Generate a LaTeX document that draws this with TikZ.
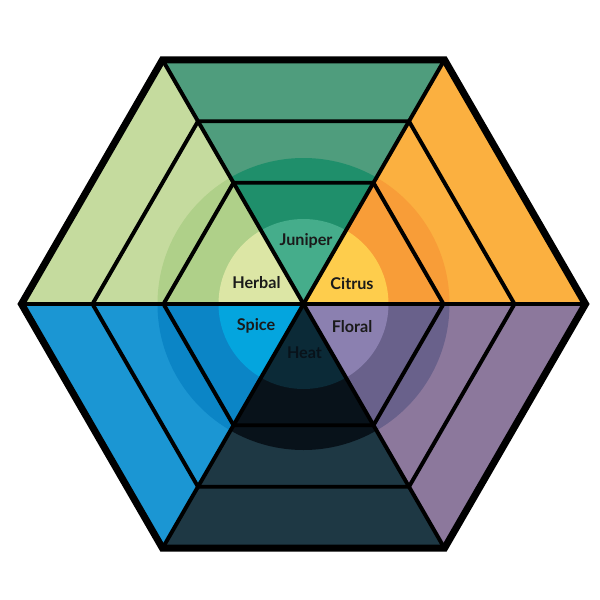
\documentclass[tikz,border=0pt]{standalone}
\usepackage{fontspec}
\setmainfont{Lato}
\usepackage{tikz}
\usetikzlibrary{calc}

\definecolor{citrusA}{HTML}{FBB040}
\definecolor{citrusB}{HTML}{F89D38}
\definecolor{citrusC}{HTML}{FECD4C}
\definecolor{juniperA}{HTML}{4F9D7D}
\definecolor{juniperB}{HTML}{1F8F6B}
\definecolor{juniperC}{HTML}{45AD8B}
\definecolor{herbalA}{HTML}{C5DB9E}
\definecolor{herbalB}{HTML}{AFD089}
\definecolor{herbalC}{HTML}{DCE6A5}
\definecolor{spiceA}{HTML}{1B96D3}
\definecolor{spiceB}{HTML}{0B85C6}
\definecolor{spiceC}{HTML}{04A5DE}
\definecolor{heatA}{HTML}{1E3844}
\definecolor{heatB}{HTML}{08121A}
\definecolor{heatC}{HTML}{0B2A37}
\definecolor{floralA}{HTML}{8C789C}
\definecolor{floralB}{HTML}{69618B}
\definecolor{floralC}{HTML}{8B80B0}
\definecolor{labeltext}{HTML}{1A1A1A}

\tikzset{
    flavour/.style={font=\fontsize{11.5}{13}\selectfont\bfseries, text=labeltext, inner sep=0pt},
    ringline/.style={line width=2.8pt},
    rimline/.style={line width=5pt}
}

\begin{document}
\begin{tikzpicture}[x=0.025cm, y=0.025cm]
    \useasboundingbox (-303.5,-296) rectangle (296.5,304);

    % six sectors, each with its two shaded discs
    \foreach \a/\base/\mid/\core in {0/citrusA/citrusB/citrusC, 60/juniperA/juniperB/juniperC,
        120/herbalA/herbalB/herbalC, 180/spiceA/spiceB/spiceC,
        240/heatA/heatB/heatC, 300/floralA/floralB/floralC} {
        \fill[\base] (0,0) -- (\a:282) -- (\a+60:282) -- cycle;
        \begin{scope}
            \clip (0,0) -- (\a:282) -- (\a+60:282) -- cycle;
            \fill[\mid] (0,0) circle (146);
            \fill[\core] (0,0) circle (85);
        \end{scope}
    }

    \foreach \r in {140,211} {
        \draw[ringline] (0:\r) -- (60:\r) -- (120:\r) -- (180:\r) -- (240:\r) -- (300:\r) -- cycle;
    }
    \foreach \a in {0,60,120} {
        \draw[ringline] (\a:282) -- (\a+180:282);
    }
    \draw[rimline] (0:282) -- (60:282) -- (120:282) -- (180:282) -- (240:282) -- (300:282) -- cycle;

    \node[flavour] (juniper) at (2.5,63) {Juniper};
    \node[flavour] (herbal) at (-47,21) {Herbal};
    \node[flavour] (citrus) at (48.5,20) {Citrus};
    \node[flavour] (spice) at (-47.5,-22) {Spice};
    \node[flavour] (floral) at (48.5,-23) {Floral};
    \node[flavour, text=heatB] (heat) at (1,-49) {Heat};
\end{tikzpicture}
\end{document}
